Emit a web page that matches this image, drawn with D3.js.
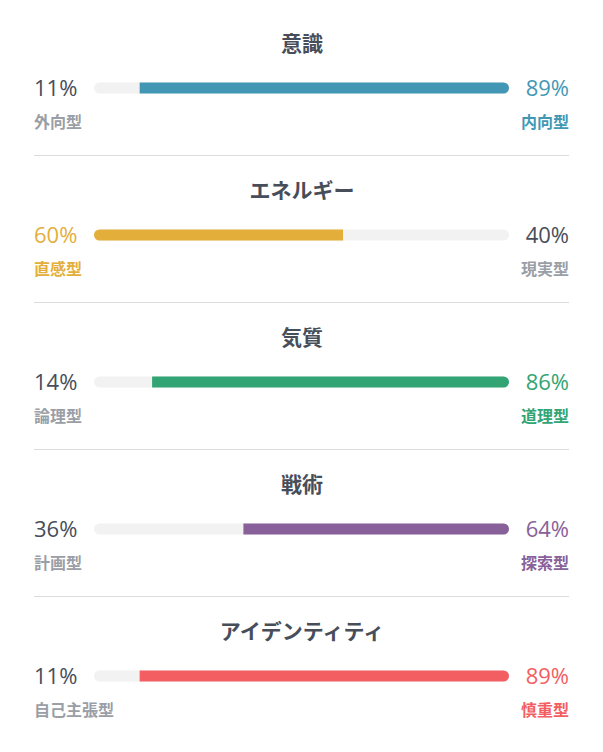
<!DOCTYPE html>
<html>
<head>
<meta charset="utf-8">
<script src="https://cdn.jsdelivr.net/npm/d3@7"></script>
<style>
  body { margin: 0; background: #fff; }
  svg text { font-family: "Open Sans", "Noto Sans CJK JP", sans-serif; }
</style>
</head>
<body>
<svg width="603" height="752"></svg>
<script>
// traits, one per row
var titles = ['意識', 'エネルギー', '気質', '戦術', 'アイデンティティ'];
var leftLabels = ['外向型', '直感型', '論理型', '計画型', '自己主張型'];
var rightLabels = ['内向型', '現実型', '道理型', '探索型', '慎重型'];
var leftValues = [11, 60, 14, 36, 11];
var rightValues = [89, 40, 86, 64, 89];
var colors = ['#4298b4', '#e4ae3a', '#33a474', '#88619a', '#f25e62'];

var svg = d3.select('svg');
var rowH = 147;
var pad = {l: 34, r: 34};
var track = {x0: 94, x1: 509, h: 11};
var darkText = '#474e5a';
var greyText = '#9a9ea6';

var xScale = d3.scaleLinear().domain([0, 100]).range([track.x0, track.x1]);

var rows = svg.selectAll('.row')
    .data(titles)
    .enter()
    .append('g')
    .attr('class', 'row')
    .attr('transform', function(d, i) { return 'translate(0,' + (i * rowH) + ')'; });

rows.append('text')
    .attr('x', 302)
    .attr('y', 44)
    .attr('dy', '0.35em')
    .attr('text-anchor', 'middle')
    .style('font-size', '21px')
    .style('font-weight', 700)
    .style('fill', darkText)
    .text(function(d) { return d; });

// background track
rows.append('rect')
    .attr('x', xScale(0))
    .attr('y', 88 - track.h / 2)
    .attr('width', xScale(100) - xScale(0))
    .attr('height', track.h)
    .attr('rx', track.h / 2)
    .style('fill', '#f2f2f2');

// filled part, rounded only at the outer end
rows.append('path')
    .style('fill', function(d, i) { return colors[i]; })
    .attr('d', function(d, i) {
        var r = track.h / 2, y0 = 88 - r, y1 = 88 + r;
        if (leftValues[i] >= rightValues[i]) {
            var xa = xScale(0), xb = xScale(leftValues[i]);
            return 'M' + xb + ',' + y0 + 'L' + (xa + r) + ',' + y0 +
                'A' + r + ',' + r + ' 0 0 0 ' + (xa + r) + ',' + y1 +
                'L' + xb + ',' + y1 + 'Z';
        } else {
            var xa2 = xScale(leftValues[i]), xb2 = xScale(100);
            return 'M' + xa2 + ',' + y0 + 'L' + (xb2 - r) + ',' + y0 +
                'A' + r + ',' + r + ' 0 0 1 ' + (xb2 - r) + ',' + y1 +
                'L' + xa2 + ',' + y1 + 'Z';
        }
    });

function leftWins(i) { return leftValues[i] >= rightValues[i]; }

rows.append('text')
    .attr('x', pad.l)
    .attr('y', 88)
    .attr('dy', '0.35em')
    .style('font-size', '22px')
    .style('font-weight', 500)
    .style('fill', function(d, i) { return leftWins(i) ? colors[i] : darkText; })
    .text(function(d, i) { return leftValues[i] + '%'; });

rows.append('text')
    .attr('x', 603 - pad.r)
    .attr('y', 88)
    .attr('dy', '0.35em')
    .attr('text-anchor', 'end')
    .style('font-size', '22px')
    .style('font-weight', 500)
    .style('fill', function(d, i) { return leftWins(i) ? darkText : colors[i]; })
    .text(function(d, i) { return rightValues[i] + '%'; });

rows.append('text')
    .attr('x', pad.l)
    .attr('y', 122)
    .attr('dy', '0.35em')
    .style('font-size', '16px')
    .style('font-weight', 700)
    .style('fill', function(d, i) { return leftWins(i) ? colors[i] : greyText; })
    .text(function(d, i) { return leftLabels[i]; });

rows.append('text')
    .attr('x', 603 - pad.r)
    .attr('y', 122)
    .attr('dy', '0.35em')
    .attr('text-anchor', 'end')
    .style('font-size', '16px')
    .style('font-weight', 700)
    .style('fill', function(d, i) { return leftWins(i) ? greyText : colors[i]; })
    .text(function(d, i) { return rightLabels[i]; });

// dividers between rows
rows.filter(function(d, i) { return i < titles.length - 1; })
    .append('line')
    .attr('x1', pad.l)
    .attr('x2', 603 - pad.r)
    .attr('y1', 155.5)
    .attr('y2', 155.5)
    .style('stroke', '#dcdcdc')
    .style('stroke-width', 1);
</script>
</body>
</html>
